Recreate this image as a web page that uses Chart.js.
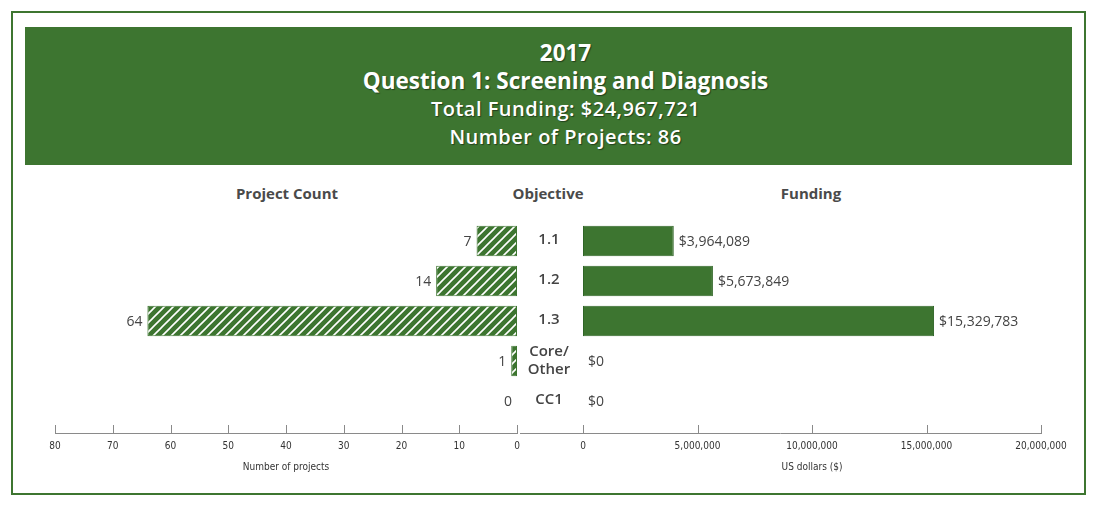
<!DOCTYPE html>
<html>
<head>
<meta charset="utf-8">
<script src="https://cdn.jsdelivr.net/npm/chart.js@4"></script>
<style>
  body { margin: 0; background: #fff; width: 1100px; height: 507px; position: relative; overflow: hidden; font-family: "Open Sans", Lato, sans-serif; }
  .frame { position: absolute; left: 11px; top: 11px; width: 1071px; height: 480px; border: 2px solid #3d7530; }
  .header { position: absolute; left: 25px; top: 27px; width: 1013px; padding-left: 34px; height: 138px; background: #3d7530; color: #fff; text-align: center; text-shadow: 1px 1px 1px rgba(0,0,0,0.45); }
  .header .big { font-size: 22.5px; font-weight: 700; line-height: 28px; }
  .header .small { font-size: 20px; font-weight: 600; line-height: 28px; letter-spacing: 0.5px; }
  .colhead { position: absolute; top: 183px; font-size: 15px; font-weight: 700; color: #4a4a4a; transform: translateX(-50%); white-space: nowrap; }
  canvas { position: absolute; }
</style>
</head>
<body>
<div class="frame"></div>
<div class="header">
  <div style="height:12px"></div>
  <div class="big">2017</div>
  <div class="big">Question 1: Screening and Diagnosis</div>
  <div class="small">Total Funding: $24,967,721</div>
  <div class="small">Number of Projects: 86</div>
</div>
<div class="colhead" style="left:287px">Project Count</div>
<div class="colhead" style="left:548px">Objective</div>
<div class="colhead" style="left:811px">Funding</div>

<div style="position:absolute;left:0;top:210px;width:540px;height:280px"><canvas id="countChart"></canvas></div>
<div style="position:absolute;left:520px;top:210px;width:580px;height:280px"><canvas id="fundChart"></canvas></div>

<script>
const objectives = ['1.1', '1.2', '1.3', ['Core/', 'Other'], 'CC1'];
const projectCounts = [7, 14, 64, 1, 0];
const funding = [3964089, 5673849, 15329783, 0, 0];
const countTicks = [0, 10, 20, 30, 40, 50, 60, 70, 80];
const fundTicks = [0, 5000000, 10000000, 15000000, 20000000];

const green = '#3d7530';
const textGray = '#444';

function hatch() {
  const c = document.createElement('canvas');
  c.width = 9; c.height = 9;
  const g = c.getContext('2d');
  g.fillStyle = green;
  g.fillRect(0, 0, 9, 9);
  g.strokeStyle = '#fff';
  g.lineWidth = 1.6;
  g.beginPath();
  g.moveTo(-2, 11); g.lineTo(11, -2);
  g.moveTo(-7, 7); g.lineTo(7, -7);
  g.moveTo(2, 16); g.lineTo(16, 2);
  g.stroke();
  return document.createElement('canvas').getContext('2d').createPattern(c, 'repeat');
}

// draws bottom axis with upward ticks, labels and title
function axisPlugin(title, fmt, extendLeft) {
  return {
    id: 'axis',
    afterDraw(chart) {
      const ctx = chart.ctx, x = chart.scales.x;
      const yLine = 223;
      ctx.save();
      ctx.strokeStyle = '#8a8a8a';
      ctx.lineWidth = 1;
      const xs = x.ticks.map(t => x.getPixelForValue(t.value));
      const lo = Math.min(...xs) - extendLeft, hi = Math.max(...xs);
      ctx.beginPath();
      ctx.moveTo(lo, yLine + 0.5); ctx.lineTo(hi, yLine + 0.5);
      xs.forEach(px => { ctx.moveTo(Math.round(px) + 0.5, yLine - 8); ctx.lineTo(Math.round(px) + 0.5, yLine + 1); });
      ctx.stroke();
      ctx.fillStyle = '#333';
      ctx.font = '10px "Liberation Sans Narrow", "DejaVu Sans Condensed", sans-serif';
      ctx.textAlign = 'center';
      ctx.textBaseline = 'middle';
      x.ticks.forEach(t => ctx.fillText(fmt(t.value), x.getPixelForValue(t.value), yLine + 13));
      ctx.fillText(title, (chart.chartArea.left + chart.chartArea.right) / 2, yLine + 34);
      ctx.restore();
    }
  };
}

function valueLabels(fmt, side) {
  return {
    id: 'vals',
    afterDatasetsDraw(chart) {
      const ctx = chart.ctx, meta = chart.getDatasetMeta(0);
      ctx.save();
      ctx.fillStyle = textGray;
      ctx.font = '14px "Open Sans", Lato, sans-serif';
      ctx.textBaseline = 'middle';
      ctx.textAlign = side < 0 ? 'right' : 'left';
      meta.data.forEach((bar, i) => {
        const v = chart.data.datasets[0].data[i];
        ctx.fillText(fmt(v), bar.x + side * 5, bar.y + 1);
      });
      ctx.restore();
    }
  };
}

const objectiveLabels = {
  id: 'objLabels',
  afterDraw(chart) {
    const ctx = chart.ctx, y = chart.scales.y;
    ctx.save();
    ctx.fillStyle = textGray;
    ctx.font = '600 15px "Open Sans", Lato, sans-serif';
    ctx.textAlign = 'center';
    ctx.textBaseline = 'middle';
    objectives.forEach((lab, i) => {
      const py = y.getPixelForValue(i);
      if (Array.isArray(lab)) {
        ctx.fillText(lab[0], 29, py - 9);
        ctx.fillText(lab[1], 29, py + 9);
      } else {
        ctx.fillText(lab, 29, py - 1);
      }
    });
    ctx.restore();
  }
};

const baseOpts = (min, max, step, reverse, pad) => ({
  indexAxis: 'y',
  responsive: true,
  maintainAspectRatio: false,
  animation: false,
  layout: { padding: pad },
  plugins: { legend: { display: false }, tooltip: { enabled: false } },
  scales: {
    x: { type: 'linear', min, max, reverse, display: false, ticks: { stepSize: step } },
    y: { display: false }
  }
});

new Chart(document.getElementById('countChart'), {
  type: 'bar',
  data: {
    labels: objectives,
    datasets: [{
      data: projectCounts,
      backgroundColor: hatch(),
      borderColor: green,
      borderWidth: 1,
      borderSkipped: false,
      barPercentage: 0.76,
      categoryPercentage: 1
    }]
  },
  options: baseOpts(countTicks[0], countTicks[countTicks.length - 1], 10, true, { left: 55, right: 23, top: 11, bottom: 69 }),
  plugins: [valueLabels(v => String(v), -1), axisPlugin('Number of projects', v => String(v), 0)]
});

new Chart(document.getElementById('fundChart'), {
  type: 'bar',
  data: {
    labels: objectives,
    datasets: [{
      data: funding,
      backgroundColor: green,
      borderColor: '#2f6526',
      borderWidth: 1,
      borderSkipped: false,
      barPercentage: 0.76,
      categoryPercentage: 1
    }]
  },
  options: baseOpts(fundTicks[0], fundTicks[fundTicks.length - 1], 5000000, false, { left: 63, right: 59, top: 11, bottom: 69 }),
  plugins: [
    valueLabels(v => '$' + v.toLocaleString('en-US'), 1),
    axisPlugin('US dollars ($)', v => v.toLocaleString('en-US'), 63),
    objectiveLabels
  ]
});
</script>
</body>
</html>
